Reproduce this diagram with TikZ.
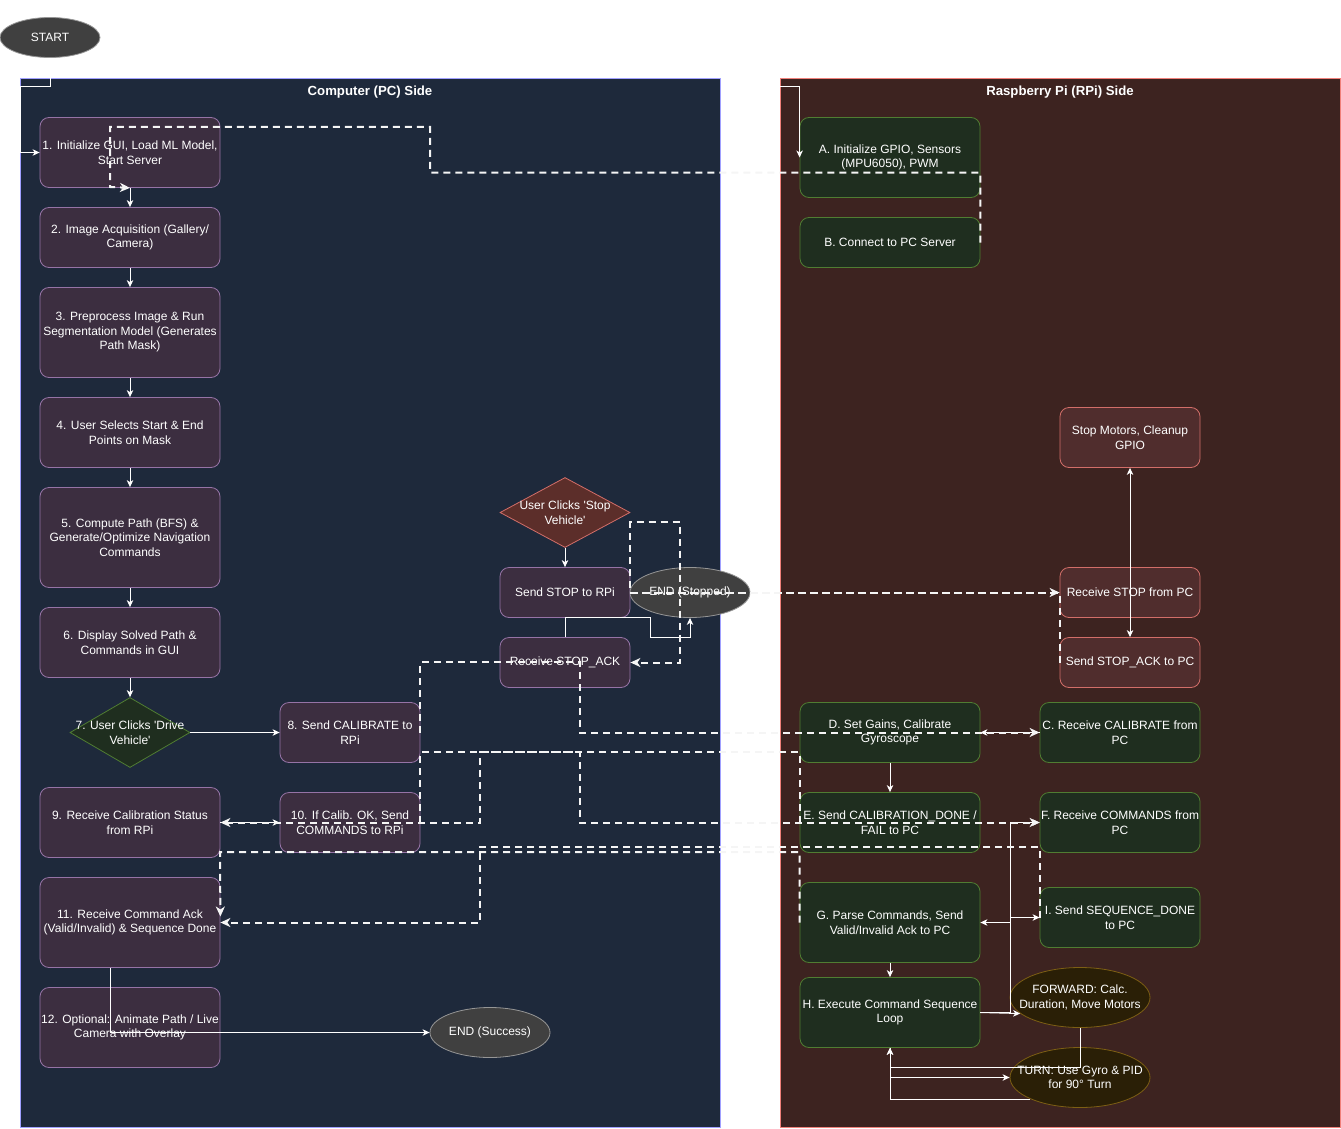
\documentclass[tikz,border=0pt]{standalone}
\usepackage{fontspec}
\newfontfamily\diagfont{Liberation Sans}
\usetikzlibrary{arrows.meta, shapes.geometric}

\definecolor{pcbg}{RGB}{30,41,59}
\definecolor{pcedge}{RGB}{160,160,255}
\definecolor{rpibg}{RGB}{61,35,32}
\definecolor{rpiedge}{RGB}{240,128,122}
\definecolor{pcfill}{RGB}{60,46,64}
\definecolor{pcline}{RGB}{150,115,166}
\definecolor{grfill}{RGB}{31,46,31}
\definecolor{grline}{RGB}{80,125,50}
\definecolor{rdfill}{RGB}{80,45,45}
\definecolor{rdline}{RGB}{210,110,105}
\definecolor{stopfill}{RGB}{92,46,42}
\definecolor{endfill}{RGB}{64,64,64}
\definecolor{endline}{RGB}{150,150,150}
\definecolor{mvfill}{RGB}{42,31,6}
\definecolor{mvline}{RGB}{125,95,20}
\definecolor{dashcol}{RGB}{245,245,245}

\begin{document}
\begin{tikzpicture}[
        x=1pt, y=-1pt,
        >={Stealth[length=7pt, width=6.5pt, inset=2pt]},
        txt/.style={font=\diagfont\fontsize{12}{14.5}\selectfont, text=white, align=center, inner sep=0pt},
        ttl/.style={font=\diagfont\fontsize{13.2}{15}\selectfont\bfseries, text=white, inner sep=0pt},
        sz/.style n args={2}{minimum width=#1pt, minimum height=#2pt},
        lbl/.style={label={[txt]center:{#1}}},
        side/.style={anchor=north west, inner sep=0pt, line width=1pt},
        pcbox/.style={txt, rounded corners=9pt, draw=pcline, fill=pcfill, line width=0.8pt},
        gbox/.style={txt, rounded corners=9pt, draw=grline, fill=grfill, line width=0.8pt},
        rbox/.style={txt, rounded corners=9pt, draw=rdline, fill=rdfill, line width=0.8pt},
        term/.style={ellipse, draw=endline, fill=endfill, inner sep=0pt, line width=0.8pt},
        move/.style={ellipse, draw=mvline, fill=mvfill, inner sep=0pt, line width=0.8pt},
        ln/.style={draw=white, line width=1pt, ->},
        dsh/.style={draw=dashcol, line width=2pt, dash pattern=on 7pt off 5pt,
            -{Stealth[length=10pt, width=9pt, inset=3pt]}}
    ]
        \useasboundingbox (0,0) rectangle (1341,1129);

        % the two sides
        \node[side, draw=pcedge, fill=pcbg, sz={700}{1049}] (pcside) at (20,78) {};
        \node[side, draw=rpiedge, fill=rpibg, sz={560}{1049}] (rpiside) at (780,78) {};
        \node[ttl] (pctitle) at (370,92) {Computer (PC) Side};
        \node[ttl] (rpititle) at (1060,92) {Raspberry Pi (RPi) Side};

        \node[term, sz={100}{40}, lbl={START}] (start) at (50,37.5) {};

        % PC side
        \node[pcbox, sz={180}{70}] (n1) at (130,152.5) {1. Initialize GUI, Load ML Model,\\ Start Server};
        \node[pcbox, sz={180}{60}] (n2) at (130,237.5) {2. Image Acquisition (Gallery/\\ Camera)};
        \node[pcbox, sz={180}{90}] (n3) at (130,332.5) {3. Preprocess Image \& Run\\ Segmentation Model (Generates\\ Path Mask)};
        \node[pcbox, sz={180}{70}] (n4) at (130,432.5) {4. User Selects Start \& End\\ Points on Mask};
        \node[pcbox, sz={180}{100}] (n5) at (130,537.5) {5. Compute Path (BFS) \&\\ Generate/Optimize Navigation\\ Commands};
        \node[pcbox, sz={180}{70}] (n6) at (130,642.5) {6. Display Solved Path \&\\ Commands in GUI};
        \node[diamond, draw=grline, fill=grfill, inner sep=0pt, line width=0.8pt, sz={120}{70},
            lbl={7. User Clicks 'Drive\\ Vehicle'}] (n7) at (130,732.5) {};
        \node[pcbox, sz={140}{60}] (n8) at (350,732.5) {8. Send CALIBRATE to\\ RPi};
        \node[pcbox, sz={180}{70}] (n9) at (130,822.5) {9. Receive Calibration Status\\ from RPi};
        \node[pcbox, sz={140}{60}] (n10) at (350,822.5) {10. If Calib. OK, Send\\ COMMANDS to RPi};
        \node[pcbox, sz={180}{90}] (n11) at (130,922.5) {11. Receive Command Ack\\ (Valid/Invalid) \& Sequence Done};
        \node[pcbox, sz={180}{80}] (n12) at (130,1027.5) {12. Optional: Animate Path / Live\\ Camera with Overlay};
        \node[term, sz={120}{50}, lbl={END (Success)}] (endok) at (490,1032.5) {};

        \node[diamond, draw=rdline, fill=stopfill, inner sep=0pt, line width=0.8pt, sz={130}{70},
            lbl={User Clicks 'Stop\\ Vehicle'}] (stopdia) at (565,512.5) {};
        \node[pcbox, sz={130}{50}] (sendstop) at (565,592.5) {Send STOP to RPi};
        \node[term, sz={120}{50}, lbl={END (Stopped)}] (endstop) at (690,592.5) {};
        \node[pcbox, sz={130}{50}] (rcvack) at (565,662.5) {Receive STOP\_ACK};

        % RPi side
        \node[gbox, sz={180}{80}] (a) at (890,157.5) {A. Initialize GPIO, Sensors\\ (MPU6050), PWM};
        \node[gbox, sz={180}{50}] (b) at (890,242.5) {B. Connect to PC Server};
        \node[rbox, sz={140}{60}] (stopmot) at (1130,437.5) {Stop Motors, Cleanup\\ GPIO};
        \node[rbox, sz={140}{50}] (rcvstop) at (1130,592.5) {Receive STOP from PC};
        \node[rbox, sz={140}{50}] (sendack) at (1130,662.5) {Send STOP\_ACK to PC};
        \node[gbox, sz={180}{60}] (d) at (890,732.5) {D. Set Gains, Calibrate\\ Gyroscope};
        \node[gbox, sz={160}{60}] (c) at (1120,732.5) {C. Receive CALIBRATE from\\ PC};
        \node[gbox, sz={180}{60}] (e) at (890,822.5) {E. Send CALIBRATION\_DONE /\\ FAIL to PC};
        \node[gbox, sz={160}{60}] (f) at (1120,822.5) {F. Receive COMMANDS from\\ PC};
        \node[gbox, sz={180}{80}] (g) at (890,922.5) {G. Parse Commands, Send\\ Valid/Invalid Ack to PC};
        \node[gbox, sz={160}{60}] (i) at (1120,917.5) {I. Send SEQUENCE\_DONE\\ to PC};
        \node[gbox, sz={180}{70}] (h) at (890,1012.5) {H. Execute Command Sequence\\ Loop};
        \node[move, sz={140}{60}, lbl={FORWARD: Calc.\\ Duration, Move Motors}] (fwd) at (1080,997.5) {};
        \node[move, sz={140}{60}, lbl={TURN: Use Gyro \& PID\\ for 90° Turn}] (turn) at (1080,1077.5) {};

        % solid flow
        \draw[ln] (start.south) |- (20,87) |- (n1.west);
        \foreach \p/\q in {n1/n2, n2/n3, n3/n4, n4/n5, n5/n6, n6/n7}
            \draw[ln] (\p.south) -- (\q.north);
        \draw[ln] (n7.east) -- (n8.west);
        \draw[ln] (n9.east) -- (n10.west);
        \draw[ln] ([xshift=-20pt]n11.south) |- (endok.west);
        \draw[ln] (stopdia.south) -- (sendstop.north);
        \draw[ln] (rcvack.north) |- ([xshift=20pt]sendstop.south east) -- ++(0,20) -| (endstop.south);

        \draw[ln] ([yshift=-9pt]rpiside.north west) -| (a.west);
        \draw[ln, <->] (stopmot.south) -- (sendack.north);
        \draw[ln] (c.west) -- (d.east);
        \draw[ln] (d.south) -- (e.north);
        \draw[ln] (g.south) -- (h.north);
        \draw[ln] (h.east) -- (fwd.195);
        \draw[ln] (h.east) -- ++(30,0) |- (f.west);
        \draw[ln] (h.east) -- ++(30,0) |- (g.east);
        \draw[ln] (h.east) -- ++(30,0) |- (i.west);
        \draw[ln] (fwd.south) -- ++(0,40) -| (h.south);
        \draw[ln] (h.south) |- (turn.west);
        \draw[ln] (turn.south west) -| (h.south);

        % messages between PC and RPi
        \draw[dsh] (b.east) -- ++(0,-70) -| (430,127) -| (110,187) -- (n1.south);
        \draw[dsh] (sendstop.east) -- (rcvstop.west);
        \draw[dsh] (sendack.west) |- (sendstop.east) |- (680,522) |- (rcvack.east);
        \draw[dsh] (n8.east) |- (580,662) |- (c.west);
        \draw[dsh] (n10.east) |- (580,752) |- (f.west);
        \draw[dsh] (e.west) |- (480,752) |- (n9.east);
        \draw[dsh] (g.west) |- (220,852) -- ([yshift=6pt]n11.east);
        \draw[dsh] (i.west) |- (480,847) |- (n11.east);
    \end{tikzpicture}
\end{document}
